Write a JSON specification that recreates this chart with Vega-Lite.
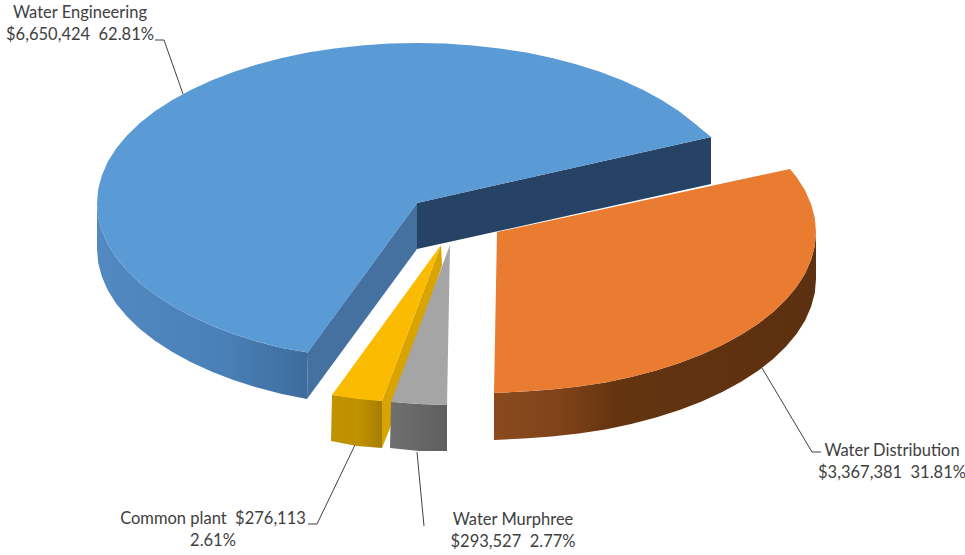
{
"$schema":"https://vega.github.io/schema/vega-lite/v6.json",
"width":965,"height":555,"padding":0,"autosize":{"type":"none"},
"background":"white",
"config":{"view":{"stroke":null}},
"datasets":{
"blueTop":[
{"i":1,"x":417,"y":203},{"i":2,"x":711,"y":137},{"i":3,"x":694.1,"y":123},{"i":4,"x":679.1,"y":111.2},{"i":5,"x":662.1,"y":100.2},{"i":6,"x":643.3,"y":89.9},{"i":7,"x":622.7,"y":80.4},{"i":8,"x":600.6,"y":71.9},{"i":9,"x":577,"y":64.4},{"i":10,"x":552.2,"y":58},{"i":11,"x":526.4,"y":52.6},{"i":12,"x":499.8,"y":48.5},{"i":13,"x":472.6,"y":45.4},{"i":14,"x":444.9,"y":43.6},{"i":15,"x":417,"y":43},{"i":16,"x":389.1,"y":43.6},{"i":17,"x":361.4,"y":45.4},{"i":18,"x":334.2,"y":48.5},{"i":19,"x":307.6,"y":52.6},{"i":20,"x":281.8,"y":58},{"i":21,"x":257,"y":64.4},{"i":22,"x":233.4,"y":71.9},{"i":23,"x":211.3,"y":80.4},{"i":24,"x":190.7,"y":89.9},{"i":25,"x":171.9,"y":100.2},{"i":26,"x":154.9,"y":111.2},{"i":27,"x":139.9,"y":123},{"i":28,"x":127,"y":135.4},{"i":29,"x":116.3,"y":148.3},{"i":30,"x":107.9,"y":161.6},{"i":31,"x":101.9,"y":175.2},{"i":32,"x":98.2,"y":189},{"i":33,"x":97,"y":203},{"i":34,"x":98.2,"y":217},{"i":35,"x":101.9,"y":230.8},{"i":36,"x":107.9,"y":244.4},{"i":37,"x":116.3,"y":257.7},{"i":38,"x":127,"y":270.6},{"i":39,"x":139.9,"y":283},{"i":40,"x":154.9,"y":294.8},{"i":41,"x":171.9,"y":305.8},{"i":42,"x":190.7,"y":316.1},{"i":43,"x":211.3,"y":325.6},{"i":44,"x":233.4,"y":334.1},{"i":45,"x":257,"y":341.6},{"i":46,"x":281.8,"y":348},{"i":47,"x":308,"y":352.5}
],
"blueWall":[
{"i":1,"x":97,"y":203},{"i":2,"x":98.2,"y":217},{"i":3,"x":101.9,"y":230.8},{"i":4,"x":107.9,"y":244.4},{"i":5,"x":116.3,"y":257.7},{"i":6,"x":127,"y":270.6},{"i":7,"x":139.9,"y":283},{"i":8,"x":154.9,"y":294.8},{"i":9,"x":171.9,"y":305.8},{"i":10,"x":190.7,"y":316.1},{"i":11,"x":211.3,"y":325.6},{"i":12,"x":233.4,"y":334.1},{"i":13,"x":257,"y":341.6},{"i":14,"x":281.8,"y":348},{"i":15,"x":308,"y":352.5},{"i":16,"x":307,"y":399},{"i":17,"x":281.8,"y":394},{"i":18,"x":257,"y":387.6},{"i":19,"x":233.4,"y":380.1},{"i":20,"x":211.3,"y":371.6},{"i":21,"x":190.7,"y":362.1},{"i":22,"x":171.9,"y":351.8},{"i":23,"x":154.9,"y":340.8},{"i":24,"x":139.9,"y":329},{"i":25,"x":127,"y":316.6},{"i":26,"x":116.3,"y":303.7},{"i":27,"x":107.9,"y":290.4},{"i":28,"x":101.9,"y":276.8},{"i":29,"x":98.2,"y":263},{"i":30,"x":97,"y":249}
],
"orangeTop":[
{"i":1,"x":497,"y":232},{"i":2,"x":790,"y":169},{"i":3,"x":796.7,"y":177.3},{"i":4,"x":805.1,"y":190.6},{"i":5,"x":811.1,"y":204.2},{"i":6,"x":814.8,"y":218},{"i":7,"x":816,"y":232},{"i":8,"x":814.8,"y":246},{"i":9,"x":811.1,"y":259.8},{"i":10,"x":805.1,"y":273.4},{"i":11,"x":796.7,"y":286.7},{"i":12,"x":786,"y":299.6},{"i":13,"x":773.1,"y":312},{"i":14,"x":758.1,"y":323.8},{"i":15,"x":741.1,"y":334.8},{"i":16,"x":722.3,"y":345.1},{"i":17,"x":701.7,"y":354.6},{"i":18,"x":679.6,"y":363.1},{"i":19,"x":656,"y":370.6},{"i":20,"x":631.2,"y":377},{"i":21,"x":605.4,"y":382.4},{"i":22,"x":578.8,"y":386.5},{"i":23,"x":551.6,"y":389.6},{"i":24,"x":523.9,"y":391.4},{"i":25,"x":494,"y":393}
],
"orangeWall":[
{"i":1,"x":816,"y":232},{"i":2,"x":814.8,"y":246},{"i":3,"x":811.1,"y":259.8},{"i":4,"x":805.1,"y":273.4},{"i":5,"x":796.7,"y":286.7},{"i":6,"x":786,"y":299.6},{"i":7,"x":773.1,"y":312},{"i":8,"x":758.1,"y":323.8},{"i":9,"x":741.1,"y":334.8},{"i":10,"x":722.3,"y":345.1},{"i":11,"x":701.7,"y":354.6},{"i":12,"x":679.6,"y":363.1},{"i":13,"x":656,"y":370.6},{"i":14,"x":631.2,"y":377},{"i":15,"x":605.4,"y":382.4},{"i":16,"x":578.8,"y":386.5},{"i":17,"x":551.6,"y":389.6},{"i":18,"x":523.9,"y":391.4},{"i":19,"x":494,"y":393},{"i":20,"x":494,"y":440},{"i":21,"x":523.9,"y":438.4},{"i":22,"x":551.6,"y":436.6},{"i":23,"x":578.8,"y":433.5},{"i":24,"x":605.4,"y":429.4},{"i":25,"x":631.2,"y":424},{"i":26,"x":656,"y":417.6},{"i":27,"x":679.6,"y":410.1},{"i":28,"x":701.7,"y":401.6},{"i":29,"x":722.3,"y":392.1},{"i":30,"x":741.1,"y":381.8},{"i":31,"x":758.1,"y":370.8},{"i":32,"x":773.1,"y":359},{"i":33,"x":786,"y":346.6},{"i":34,"x":796.7,"y":333.7},{"i":35,"x":805.1,"y":320.4},{"i":36,"x":811.1,"y":306.8},{"i":37,"x":814.8,"y":293},{"i":38,"x":816,"y":279}
],
"shapes":[
{"face":"blueBack","i":1,"x":417,"y":203},{"face":"blueBack","i":2,"x":711,"y":137},{"face":"blueBack","i":3,"x":711,"y":184},{"face":"blueBack","i":4,"x":417,"y":249},
{"face":"blueFront","i":1,"x":417,"y":203},{"face":"blueFront","i":2,"x":308,"y":352},{"face":"blueFront","i":3,"x":307,"y":399},{"face":"blueFront","i":4,"x":417,"y":249},
{"face":"goldSide","i":1,"x":441,"y":245},{"face":"goldSide","i":2,"x":442,"y":265},{"face":"goldSide","i":3,"x":390,"y":428},{"face":"goldSide","i":4,"x":382,"y":448},{"face":"goldSide","i":5,"x":382,"y":401},
{"face":"goldFront","i":1,"x":332,"y":395},{"face":"goldFront","i":2,"x":382,"y":401},{"face":"goldFront","i":3,"x":382,"y":448},{"face":"goldFront","i":4,"x":357,"y":446},{"face":"goldFront","i":5,"x":331,"y":441},
{"face":"goldTop","i":1,"x":441,"y":245},{"face":"goldTop","i":2,"x":332,"y":395},{"face":"goldTop","i":3,"x":357,"y":399},{"face":"goldTop","i":4,"x":382,"y":401},
{"face":"grayFront","i":1,"x":391,"y":402},{"face":"grayFront","i":2,"x":419,"y":404},{"face":"grayFront","i":3,"x":447,"y":405},{"face":"grayFront","i":4,"x":447,"y":451},{"face":"grayFront","i":5,"x":419,"y":451},{"face":"grayFront","i":6,"x":390,"y":448},
{"face":"grayTop","i":1,"x":450,"y":245},{"face":"grayTop","i":2,"x":391,"y":402},{"face":"grayTop","i":3,"x":419,"y":404},{"face":"grayTop","i":4,"x":447,"y":405}
],
"leaders":[
{"slice":"Water Engineering","i":1,"x":155,"y":40},{"slice":"Water Engineering","i":2,"x":164,"y":40},{"slice":"Water Engineering","i":3,"x":183,"y":94},
{"slice":"Water Distribution","i":1,"x":762,"y":368},{"slice":"Water Distribution","i":2,"x":812,"y":452},{"slice":"Water Distribution","i":3,"x":821,"y":452},
{"slice":"Common plant","i":1,"x":308,"y":524},{"slice":"Common plant","i":2,"x":317,"y":524},{"slice":"Common plant","i":3,"x":355,"y":445},
{"slice":"Water Murphree","i":1,"x":417,"y":452},{"slice":"Water Murphree","i":2,"x":424,"y":526}
],
"labels":[
{"text":"Water Engineering","x":80,"y":13},
{"text":"$6,650,424 \u00a062.81%","x":80,"y":35},
{"text":"Water Distribution","x":892,"y":451},
{"text":"$3,367,381 \u00a031.81%","x":892,"y":473},
{"text":"Common plant \u00a0$276,113","x":213,"y":519},
{"text":"2.61%","x":213,"y":541},
{"text":"Water Murphree","x":513,"y":520},
{"text":"$293,527 \u00a02.77%","x":513,"y":542}
]
},
"encoding":{
"x":{"field":"x","type":"quantitative","axis":null,"scale":{"domain":[0,965],"range":[0,965],"nice":false,"zero":false}},
"y":{"field":"y","type":"quantitative","axis":null,"scale":{"domain":[0,555],"range":[0,555],"nice":false,"zero":false}},
"order":{"field":"i","type":"quantitative"}
},
"layer":[
{"data":{"name":"shapes"},"transform":[{"filter":"datum.face==='blueBack'"}],"mark":{"type":"line","fill":"#264365","strokeWidth":0,"interpolate":"linear-closed"}},
{"data":{"name":"blueWall"},"mark":{"type":"line","strokeWidth":0,"interpolate":"linear-closed","fill":{"x1":0,"y1":0,"x2":1,"y2":0,"gradient":"linear","stops":[{"offset":0,"color":"#5289c0"},{"offset":0.6,"color":"#4a80b8"},{"offset":1,"color":"#3c6c9c"}]}}},
{"data":{"name":"shapes"},"transform":[{"filter":"datum.face==='blueFront'"}],"mark":{"type":"line","fill":"#44719f","strokeWidth":0,"interpolate":"linear-closed"}},
{"data":{"name":"blueTop"},"mark":{"type":"line","fill":"#5b9bd5","strokeWidth":0,"interpolate":"linear-closed"}},
{"data":{"name":"orangeWall"},"mark":{"type":"line","strokeWidth":0,"interpolate":"linear-closed","fill":{"x1":0,"y1":0,"x2":1,"y2":0,"gradient":"linear","stops":[{"offset":0,"color":"#8a4a1e"},{"offset":0.2,"color":"#80431a"},{"offset":0.38,"color":"#643410"},{"offset":1,"color":"#5c3010"}]}}},
{"data":{"name":"orangeTop"},"mark":{"type":"line","fill":"#e97c30","strokeWidth":0,"interpolate":"linear-closed"}},
{"data":{"name":"shapes"},"transform":[{"filter":"datum.face==='goldSide'"}],"mark":{"type":"line","fill":"#d9a300","strokeWidth":0,"interpolate":"linear-closed"}},
{"data":{"name":"shapes"},"transform":[{"filter":"datum.face==='goldFront'"}],"mark":{"type":"line","strokeWidth":0,"interpolate":"linear-closed","fill":{"x1":0,"y1":0,"x2":1,"y2":0,"gradient":"linear","stops":[{"offset":0,"color":"#c29300"},{"offset":0.6,"color":"#bd8f00"},{"offset":1,"color":"#a67d00"}]}}},
{"data":{"name":"shapes"},"transform":[{"filter":"datum.face==='goldTop'"}],"mark":{"type":"line","fill":"#fbbb00","strokeWidth":0,"interpolate":"linear-closed"}},
{"data":{"name":"shapes"},"transform":[{"filter":"datum.face==='grayFront'"}],"mark":{"type":"line","strokeWidth":0,"interpolate":"linear-closed","fill":{"x1":0,"y1":0,"x2":1,"y2":0,"gradient":"linear","stops":[{"offset":0,"color":"#6f6f6f"},{"offset":1,"color":"#5f5f5f"}]}}},
{"data":{"name":"shapes"},"transform":[{"filter":"datum.face==='grayTop'"}],"mark":{"type":"line","fill":"#a5a5a5","strokeWidth":0,"interpolate":"linear-closed"}},
{"data":{"name":"leaders"},"mark":{"type":"line","stroke":"#404040","strokeWidth":1},"encoding":{"detail":{"field":"slice"}}},
{"data":{"name":"labels"},"mark":{"type":"text","font":"Lato","fontSize":16.5,"color":"#404040","align":"center","baseline":"middle"},"encoding":{"text":{"field":"text"},"order":{"value":null}}}
]
}
